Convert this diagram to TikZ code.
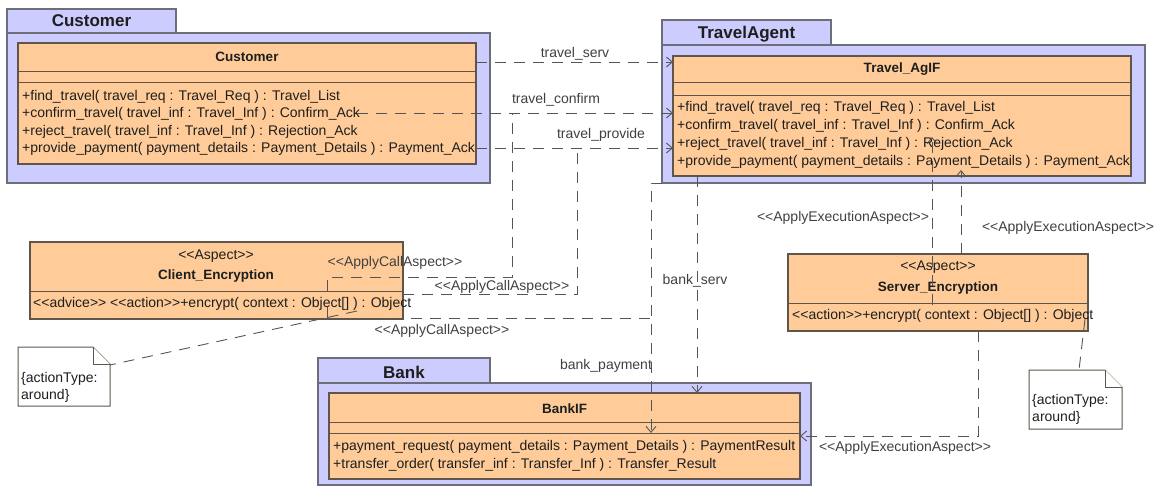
\documentclass[tikz,border=0pt]{standalone}
\usepackage{fontspec}
\setmainfont{Liberation Sans}[Ligatures=TeXOff]
\usetikzlibrary{arrows.meta}

\definecolor{pkgfill}{RGB}{204,204,255}
\definecolor{pkgline}{RGB}{110,110,122}
\definecolor{clsfill}{RGB}{255,204,153}
\definecolor{clsline}{RGB}{95,85,75}
\definecolor{depcol}{RGB}{85,85,85}
\definecolor{txt}{RGB}{30,30,30}

\begin{document}
\begin{tikzpicture}[x=1pt,y=-1pt,
    pkg/.style={draw=pkgline,fill=pkgfill,line width=1.2pt},
    cls/.style={draw=clsline,fill=clsfill,line width=1.2pt},
    sep/.style={draw=clsline,line width=1pt},
    notebox/.style={draw=clsline,fill=white,line width=1pt},
    dep/.style={draw=depcol,line width=0.9pt,dash pattern=on 11pt off 8pt},
    deparrow/.style={dep,-{Straight Barb[length=6pt,width=10pt]}},
    tabname/.style={font=\fontsize{17}{20}\selectfont\bfseries,inner sep=0pt,anchor=base,text=txt},
    clsname/.style={font=\fontsize{13.5}{17}\selectfont\bfseries,inner sep=0pt,anchor=base,text=txt},
    stereo/.style={font=\fontsize{14}{17}\selectfont,inner sep=0pt,anchor=base,text=txt},
    op/.style={font=\fontsize{14}{17}\selectfont,inner sep=0pt,anchor=base west,text=txt},
    lbl/.style={font=\fontsize{14}{17}\selectfont,inner sep=0pt,anchor=base,text=txt!85}]
        \useasboundingbox (0,0) rectangle (1158,486);

        % Customer package
        \draw[pkg] (7,9) rectangle (176,33);
        \draw[pkg] (7,33) rectangle (490,183);
        \node[tabname] (custpkg) at (91.5,27) {Customer};
        \draw[cls] (18,43) rectangle (476,164);
        \draw[sep] (18,72) -- (476,72) (18,83) -- (476,83);
        \node[clsname] (custname) at (247,61.5) {Customer};
        \node[op] (custop1) at (22,100.5) {+find\_travel( travel\_req : Travel\_Req ) : Travel\_List};
        \node[op] (custop2) at (22,117.5) {+confirm\_travel( travel\_inf : Travel\_Inf ) : Confirm\_Ack};
        \node[op] (custop3) at (22,135.5) {+reject\_travel( travel\_inf : Travel\_Inf ) : Rejection\_Ack};
        \node[op] (custop4) at (22,152.5) {+provide\_payment( payment\_details : Payment\_Details ) : Payment\_Ack};

        % TravelAgent package
        \draw[pkg] (662,20) rectangle (831,45);
        \draw[pkg] (662,45) rectangle (1145,183);
        \node[tabname] (agentpkg) at (746.5,39) {TravelAgent};
        \draw[cls] (673,56) rectangle (1131,176);
        \draw[sep] (673,83) -- (1131,83) (673,96) -- (1131,96);
        \node[clsname] (agentname) at (902,73) {Travel\_AgIF};
        \node[op] (agentop1) at (677,111.5) {+find\_travel( travel\_req : Travel\_Req ) : Travel\_List};
        \node[op] (agentop2) at (677,129.5) {+confirm\_travel( travel\_inf : Travel\_Inf ) : Confirm\_Ack};
        \node[op] (agentop3) at (677,147.5) {+reject\_travel( travel\_inf : Travel\_Inf ) : Rejection\_Ack};
        \node[op] (agentop4) at (677,165.5) {+provide\_payment( payment\_details : Payment\_Details ) : Payment\_Ack};

        % Client aspect
        \draw[cls] (30,242) rectangle (403,319);
        \draw[sep] (30,291) -- (403,291);
        \node[stereo] (clientst) at (216,259.5) {<<Aspect>>};
        \node[clsname] (clientname) at (216,279) {Client\_Encryption};
        \node[op] (clientop) at (33,307.5) {<<advice>> <<action>>+encrypt( context : Object[] ) : Object};

        % Server aspect
        \draw[cls] (788,254) rectangle (1088,331);
        \draw[sep] (788,303) -- (1088,303);
        \node[stereo] (serverst) at (938,270.5) {<<Aspect>>};
        \node[clsname] (servername) at (938,291.5) {Server\_Encryption};
        \node[op] (serverop) at (792,319.5) {<<action>>+encrypt( context : Object[] ) : Object};

        % Bank package
        \draw[pkg] (318,358) rectangle (490,383);
        \draw[pkg] (318,383) rectangle (811,485);
        \node[tabname] (bankpkg) at (404,378) {Bank};
        \draw[cls] (329,393) rectangle (800,479);
        \draw[sep] (329,422) -- (800,422) (329,433) -- (800,433);
        \node[clsname] (bankname) at (564.5,413.5) {BankIF};
        \node[op] (bankop1) at (333,450.5) {+payment\_request( payment\_details : Payment\_Details ) : PaymentResult};
        \node[op] (bankop2) at (333,468.5) {+transfer\_order( transfer\_inf : Transfer\_Inf ) : Transfer\_Result};

        % Notes
        \draw[notebox] (18,347) -- (93,347) -- (110,364) -- (110,406) -- (18,406) -- cycle;
        \draw[notebox] (93,347) -- (93,364) -- (110,364);
        \node[op] (note1a) at (21,382) {\{actionType:};
        \node[op] (note1b) at (21,399) {around\}};
        \draw[notebox] (1029,370) -- (1105,370) -- (1122,387) -- (1122,429) -- (1029,429) -- cycle;
        \draw[notebox] (1105,370) -- (1105,387) -- (1122,387);
        \node[op] (note2a) at (1032,404.5) {\{actionType:};
        \node[op] (note2b) at (1032,421.5) {around\}};

        % Connector end points
        \coordinate (servfrom) at (476,62);
        \coordinate (servto) at (673,62);
        \coordinate (conffrom) at (357,113);
        \coordinate (confto) at (673,113);
        \coordinate (provfrom) at (476,148);
        \coordinate (provto) at (673,148);
        \coordinate (bservfrom) at (697,176);
        \coordinate (bservto) at (697,393);
        \coordinate (bpayfrom) at (662,183);
        \coordinate (bpayto) at (651,433);
        \coordinate (callA) at (327,291);
        \coordinate (callB) at (403,294);
        \coordinate (callC) at (327,307);
        \coordinate (execA) at (932,305);
        \coordinate (execB) at (961,254);
        \coordinate (execC) at (978,331);
        \coordinate (execAto) at (932,137);
        \coordinate (execBto) at (961,170);
        \coordinate (execCto) at (800,436);
        \coordinate (n1end) at (110,365);
        \coordinate (n1from) at (357,311);
        \coordinate (n2end) at (1079,370);
        \coordinate (n2from) at (1085,319);

        % Calls between packages
        \draw[deparrow] (servfrom) -- (servto);
        \draw[deparrow] (conffrom) -- (confto);
        \draw[deparrow] (provfrom) -- (provto);
        \draw[deparrow] (bservfrom) -- (bservto);
        \draw[deparrow] (bpayfrom) -- (651,183) -- (bpayto);
        \node[lbl] (servlbl) at (575,57.5) {travel\_serv};
        \node[lbl] (conflbl) at (556,103.5) {travel\_confirm};
        \node[lbl] (provlbl) at (601,138.5) {travel\_provide};
        \node[lbl] (bservlbl) at (695,284.5) {bank\_serv};
        \node[lbl] (bpaylbl) at (606,369.5) {bank\_payment};

        % Call aspects
        \draw[dep] (callA) -- (327,277) -- (512,277) -- (512,113);
        \draw[dep] (callB) -- (577,294) -- (577,148);
        \draw[dep] (callC) -- (327,318) -- (651,318);
        \node[lbl] (callAlbl) at (395,266.5) {<<ApplyCallAspect>>};
        \node[lbl] (callBlbl) at (502,290.5) {<<ApplyCallAspect>>};
        \node[lbl] (callClbl) at (442,334.5) {<<ApplyCallAspect>>};

        % Execution aspects
        \draw[deparrow] (execA) -- (execAto);
        \draw[deparrow] (execB) -- (execBto);
        \draw[deparrow] (execC) -- (978,436) -- (execCto);
        \node[lbl] (execAlbl) at (843,221.5) {<<ApplyExecutionAspect>>};
        \node[lbl] (execBlbl) at (1068,231.5) {<<ApplyExecutionAspect>>};
        \node[lbl] (execClbl) at (905,451.5) {<<ApplyExecutionAspect>>};

        % Note links
        \draw[dep] (n1from) -- (n1end);
        \draw[dep] (n2from) -- (n2end);
\end{tikzpicture}
\end{document}
